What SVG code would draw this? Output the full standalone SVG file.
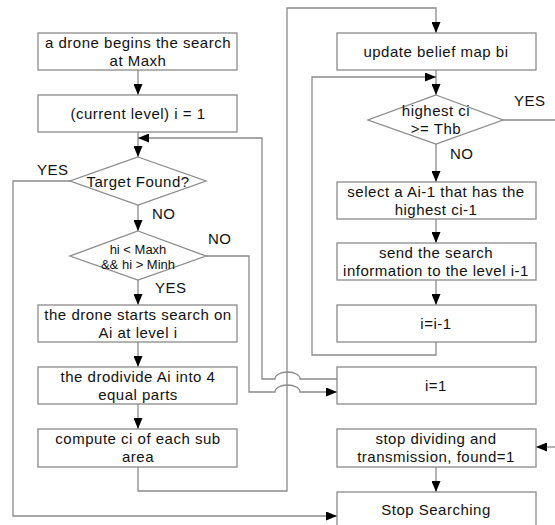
<svg xmlns="http://www.w3.org/2000/svg" width="555" height="525" viewBox="0 0 555 525">
<style>
.box{fill:#fff;stroke:#8a8a8a;stroke-width:1.3}
.ln{fill:none;stroke:#8a8a8a;stroke-width:1.3}
text{font-family:"Liberation Sans",Arial,sans-serif;font-size:15px;fill:#111;letter-spacing:0.5px;text-anchor:middle}
.sm{font-size:13px;letter-spacing:0}
.lb{text-anchor:start}
</style>
<defs>
<marker id="ah" markerUnits="userSpaceOnUse" markerWidth="11" markerHeight="9" refX="11" refY="4.5" orient="auto">
<path d="M0,0 L11,4.5 L0,9 z" fill="#000"/>
</marker>
</defs>
<rect width="555" height="525" fill="#fff"/>
<g id="connectors">
<path class="ln" d="M138,70 V95" marker-end="url(#ah)"/>
<path class="ln" d="M138,132 V157" marker-end="url(#ah)"/>
<path class="ln" d="M138,205 V231" marker-end="url(#ah)"/>
<path class="ln" d="M138,280 V305" marker-end="url(#ah)"/>
<path class="ln" d="M138,342 V367" marker-end="url(#ah)"/>
<path class="ln" d="M138,404 V429" marker-end="url(#ah)"/>
<path class="ln" d="M70,181 H13 V516 H337" marker-end="url(#ah)"/>
<path class="ln" d="M337,379 H300 A12.5,7 0 0 0 275,379 H262 V138 H138" marker-end="url(#ah)"/>
<path class="ln" d="M206,256 H249 V392 H275 A12.5,7 0 0 1 300,392 H337" marker-end="url(#ah)"/>
<path class="ln" d="M138,467 V491 H287 V8 H436 V33" marker-end="url(#ah)"/>
<path class="ln" d="M436,70 V95" marker-end="url(#ah)"/>
<path class="ln" d="M436,144 V182" marker-end="url(#ah)"/>
<path class="ln" d="M436,219 V243" marker-end="url(#ah)"/>
<path class="ln" d="M436,280 V305" marker-end="url(#ah)"/>
<path class="ln" d="M436,342 V355 H312 V77 H436" marker-end="url(#ah)"/>
<path class="ln" d="M503,120 H555"/>
<path class="ln" d="M555,447 H536" marker-end="url(#ah)"/>
<path class="ln" d="M436,467 V492" marker-end="url(#ah)"/>
<text class="lb" x="37" y="175">YES</text>
<text class="lb" x="152" y="219">NO</text>
<text class="lb" x="208" y="244">NO</text>
<text class="lb" x="155" y="293">YES</text>
<text class="lb" x="514" y="106">YES</text>
<text class="lb" x="450" y="159">NO</text>
</g>
<g id="n1"><rect class="box" x="38" y="33" width="199" height="37"/><text x="138" y="48">a drone begins the search</text><text x="138" y="66">at Maxh</text></g>
<g id="n2"><rect class="box" x="38" y="95" width="199" height="37"/><text x="138" y="119">(current level) i = 1</text></g>
<g id="n3"><polygon class="box" points="138,157 206,181 138,205 70,181"/><text x="138" y="187">Target Found?</text></g>
<g id="n4"><polygon class="box" points="138,231 206,256 138,280 70,256"/><text class="sm" x="138" y="254">hi &lt; Maxh</text><text class="sm" x="138" y="269">&amp;&amp; hi &gt; Minh</text></g>
<g id="n5"><rect class="box" x="38" y="305" width="199" height="37"/><text x="138" y="320">the drone starts search on</text><text x="138" y="338">Ai at level i</text></g>
<g id="n6"><rect class="box" x="38" y="367" width="199" height="37"/><text x="138" y="382">the drodivide Ai into 4</text><text x="138" y="400">equal parts</text></g>
<g id="n7"><rect class="box" x="38" y="429" width="199" height="38"/><text x="138" y="444">compute ci of each sub</text><text x="138" y="462">area</text></g>
<g id="n8"><rect class="box" x="337" y="33" width="199" height="37"/><text x="436" y="57">update belief map bi</text></g>
<g id="n9"><polygon class="box" points="436,95 503,120 436,144 368,120"/><text x="436" y="116">highest ci</text><text x="436" y="134">&gt;= Thb</text></g>
<g id="n10"><rect class="box" x="337" y="182" width="199" height="37"/><text x="436" y="197">select a Ai-1 that has the</text><text x="436" y="215">highest ci-1</text></g>
<g id="n11"><rect class="box" x="337" y="243" width="199" height="37"/><text x="436" y="258">send the search</text><text x="436" y="276">information to the level i-1</text></g>
<g id="n12"><rect class="box" x="337" y="305" width="199" height="37"/><text x="436" y="329">i=i-1</text></g>
<g id="n13"><rect class="box" x="337" y="367" width="199" height="37"/><text x="436" y="391">i=1</text></g>
<g id="n14"><rect class="box" x="337" y="429" width="199" height="38"/><text x="436" y="444">stop dividing and</text><text x="436" y="462">transmission, found=1</text></g>
<g id="n15"><rect class="box" x="337" y="492" width="199" height="40"/><text x="436" y="515">Stop Searching</text></g>
</svg>
